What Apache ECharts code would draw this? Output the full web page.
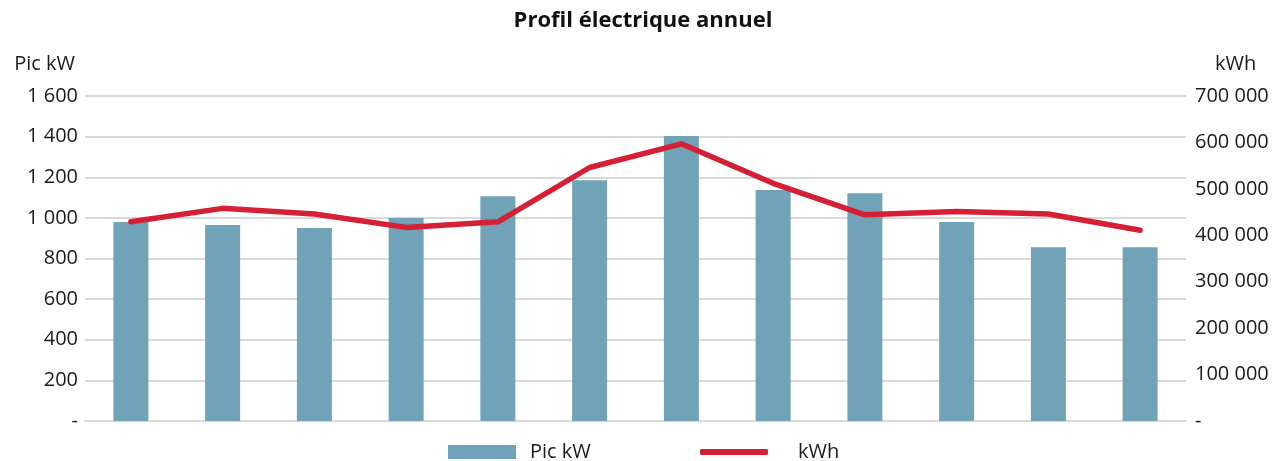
<!DOCTYPE html>
<html>
<head>
<meta charset="utf-8">
<script src="https://cdn.jsdelivr.net/npm/echarts@6/dist/echarts.min.js"></script>
<style>
html,body{margin:0;padding:0;background:#fff;}
#c{width:1286px;height:461px;}
</style>
</head>
<body>
<div id="c"></div>
<script>
const categories = ['1','2','3','4','5','6','7','8','9','10','11','12'];
const picKW = [980, 965, 950, 1000, 1106, 1185, 1403, 1137, 1121, 980, 855, 855];
const kWh = [429000, 458000, 446000, 417000, 429000, 546000, 597000, 512000, 444000, 451000, 446000, 411000];
const leftTicks = {min: 0, max: 1600, interval: 200};
const rightTicks = {min: 0, max: 700000, interval: 100000};

function fmt(v){
  if (v === 0) return '-';
  return String(v).replace(/\B(?=(\d{3})+(?!\d))/g, ' ');
}

const FONT = '"Open Sans", "Noto Sans", sans-serif';
const chart = echarts.init(document.getElementById('c'), null, {renderer:'canvas'});
chart.setOption({
  animation: false,
  textStyle: {fontFamily: FONT, color: '#1a1a1a'},
  title: {
    text: 'Profil électrique annuel',
    left: 'center', top: 5,
    textStyle: {fontFamily: FONT, fontSize: 22, fontWeight: 'bold', color: '#111'}
  },
  grid: {left: 85, right: 100, top: 96, bottom: 40},
  legend: [
    {
      data: [{name: 'Pic kW', icon: 'rect'}], left: 443, top: 437,
      itemWidth: 68, itemHeight: 14,
      textStyle: {fontFamily: FONT, fontSize: 20, color: '#1a1a1a', padding: [0,0,0,9]}
    },
    {
      data: [{name: 'kWh', icon: 'roundRect'}], left: 695, top: 437,
      itemWidth: 68, itemHeight: 6,
      itemStyle: {color: '#d51f35', borderWidth: 0},
      lineStyle: {width: 0},
      textStyle: {fontFamily: FONT, fontSize: 20, color: '#1a1a1a', padding: [0,0,0,25]}
    }
  ],
  xAxis: {
    type: 'category', data: categories,
    axisLine: {show: true, lineStyle: {color: '#d9d9d9', width: 2}},
    axisTick: {show: false}, axisLabel: {show: false}
  },
  yAxis: [
    {
      type: 'value', min: leftTicks.min, max: leftTicks.max, interval: leftTicks.interval,
      name: 'Pic kW', nameLocation: 'end', nameGap: 22,
      nameTextStyle: {fontFamily: FONT, fontSize: 20, color: '#1a1a1a', align: 'right', padding: [0, 10, 0, 0]},
      axisLine: {show: false}, axisTick: {show: false},
      axisLabel: {fontFamily: FONT, fontSize: 20, color: '#1a1a1a', margin: 7, formatter: fmt},
      splitLine: {lineStyle: {color: '#d9d9d9', width: 2}}
    },
    {
      type: 'value', min: rightTicks.min, max: rightTicks.max, interval: rightTicks.interval,
      name: 'kWh', nameLocation: 'end', nameGap: 22,
      nameTextStyle: {fontFamily: FONT, fontSize: 20, color: '#1a1a1a', align: 'left', padding: [0, 0, 0, 29]},
      axisLine: {show: false}, axisTick: {show: false},
      axisLabel: {fontFamily: FONT, fontSize: 20, color: '#1a1a1a', margin: 9, formatter: fmt},
      splitLine: {show: false}
    }
  ],
  series: [
    {
      name: 'Pic kW', type: 'bar', yAxisIndex: 0, data: picKW,
      barWidth: 35,
      itemStyle: {color: '#70a3b7'}
    },
    {
      name: 'kWh', type: 'line', yAxisIndex: 1, data: kWh,
      symbol: 'none', showSymbol: false,
      lineStyle: {color: '#d51f35', width: 5.5, cap: 'round', join: 'round'},
      itemStyle: {color: '#d51f35'}
    }
  ]
});
</script>
</body>
</html>
